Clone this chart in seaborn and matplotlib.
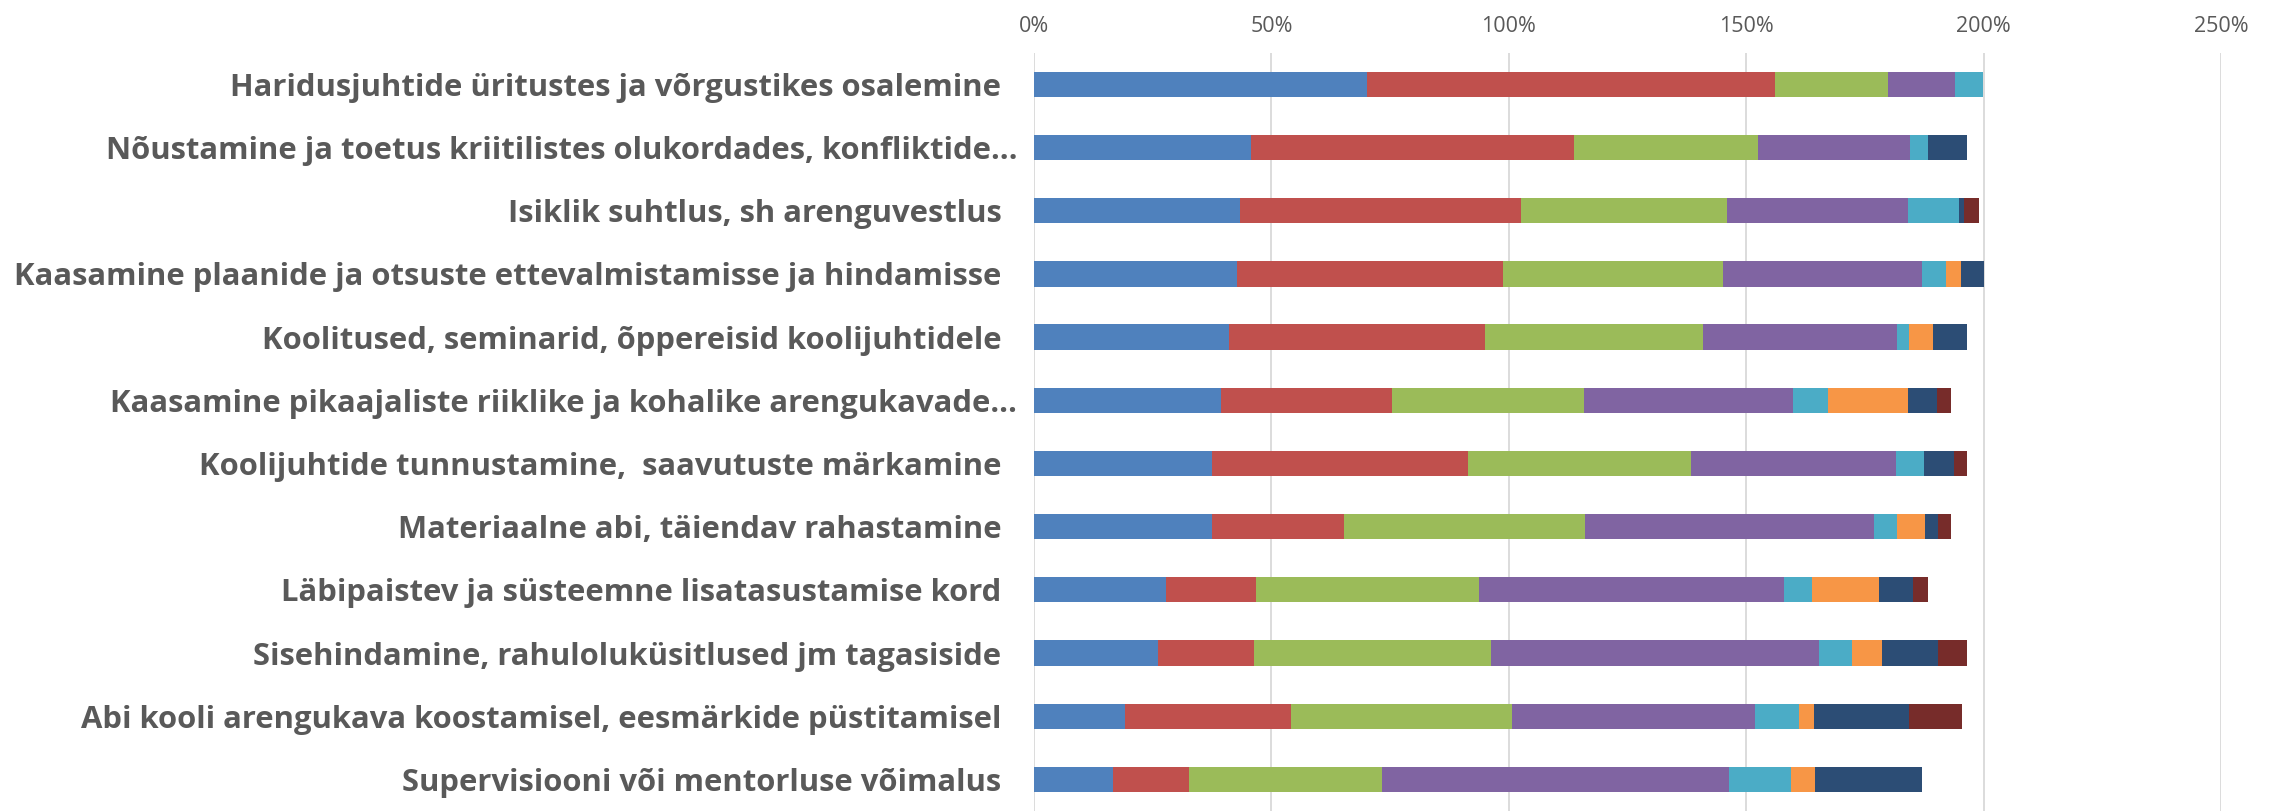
"""Toetusvormide jaotus — horisontaalne virnastatud tulpdiagramm."""
import matplotlib
matplotlib.use("Agg")
import matplotlib.pyplot as plt
import numpy as np
import pandas as pd
import seaborn as sns

# ---------------------------------------------------------------------------
# andmed (protsendid, loetud pildilt)
# ---------------------------------------------------------------------------
CATEGORIES = [
    "Haridusjuhtide üritustes ja võrgustikes osalemine",
    "Nõustamine ja toetus kriitilistes olukordades, konfliktide…",
    "Isiklik suhtlus, sh arenguvestlus",
    "Kaasamine plaanide ja otsuste ettevalmistamisse ja hindamisse",
    "Koolitused, seminarid, õppereisid koolijuhtidele",
    "Kaasamine pikaajaliste riiklike ja kohalike arengukavade…",
    "Koolijuhtide tunnustamine,  saavutuste märkamine",
    "Materiaalne abi, täiendav rahastamine",
    "Läbipaistev ja süsteemne lisatasustamise kord",
    "Sisehindamine, rahuloluküsitlused jm tagasiside",
    "Abi kooli arengukava koostamisel, eesmärkide püstitamisel",
    "Supervisiooni või mentorluse võimalus",
]

S1 = [70.2, 45.8, 43.4, 42.7, 41.1, 39.3, 37.4, 37.4, 27.8, 26.2, 19.2, 16.6]
S2 = [85.8, 67.9, 59.1, 56.1, 53.8, 36.0, 53.9, 27.9, 18.9, 20.1, 34.9, 16.0]
S3 = [23.9, 38.8, 43.5, 46.3, 46.0, 40.5, 47.1, 50.7, 47.0, 49.9, 46.6, 40.7]
S4 = [14.0, 31.9, 38.0, 42.0, 40.8, 44.1, 43.1, 60.9, 64.2, 69.1, 51.1, 73.0]
S5 = [5.9, 3.8, 10.7, 5.0, 2.6, 7.2, 6.0, 4.8, 6.0, 7.0, 9.3, 13.2]
S6 = [0.0, 0.0, 0.0, 3.1, 5.0, 16.9, 0.0, 5.9, 14.1, 6.2, 3.1, 5.0]
S7 = [0.0, 8.3, 1.2, 4.8, 7.2, 6.1, 6.2, 2.7, 7.1, 11.9, 20.1, 22.6]
S8 = [0.0, 0.0, 3.1, 0.0, 0.0, 3.1, 2.8, 2.8, 3.1, 6.0, 11.1, 0.0]

SERIES = [S1, S2, S3, S4, S5, S6, S7, S8]
COLORS = ["#4F81BD", "#C0504D", "#9BBB59", "#8064A2",
          "#4BACC6", "#F79646", "#2C4D75", "#772C2A"]
X_TICKS = [0, 50, 100, 150, 200, 250]

TEXT_GRAY = "#595959"


def main() -> None:
    sns.set_theme(style="white")
    plt.rcParams["font.family"] = ["Open Sans", "DejaVu Sans"]

    fig = plt.figure(figsize=(22.8, 8.11), dpi=100)
    ax = fig.add_axes([0.4535, 0.0, 0.5207, 0.935])

    # kumulatiivsed summad, joonistatakse suurimast väikseimani
    cum = np.cumsum(np.array(SERIES), axis=0)
    for i in range(len(SERIES) - 1, -1, -1):
        df = pd.DataFrame({"cat": CATEGORIES, "val": cum[i]})
        sns.barplot(data=df, x="val", y="cat", orient="h", color=COLORS[i],
                    saturation=1, width=0.4, linewidth=0, ax=ax)

    ax.set_xlim(0, 250)
    ax.set_ylim(11.5, -0.5)
    ax.set_xticks(X_TICKS)
    ax.set_xticklabels([f"{t}%" for t in X_TICKS])
    ax.xaxis.tick_top()
    ax.tick_params(axis="x", length=0, pad=11, labelsize=15.5, labelcolor=TEXT_GRAY)
    ax.tick_params(axis="y", length=0, pad=12, labelsize=22.3, labelcolor=TEXT_GRAY)
    # Excel jätab täispikkadele siltidele lõppu tühiku
    ax.set_yticks(range(len(CATEGORIES)))
    ax.set_yticklabels([c if c.endswith("…") else c + "  " for c in CATEGORIES],
                       fontweight="bold")
    ax.set_xlabel("")
    ax.set_ylabel("")
    ax.grid(axis="x", color="#D9D9D9", linewidth=1.3)
    ax.set_axisbelow(True)
    for sp in ax.spines.values():
        sp.set_visible(False)

    fig.savefig("out.png", dpi=100)
    plt.close(fig)


if __name__ == "__main__":
    main()
